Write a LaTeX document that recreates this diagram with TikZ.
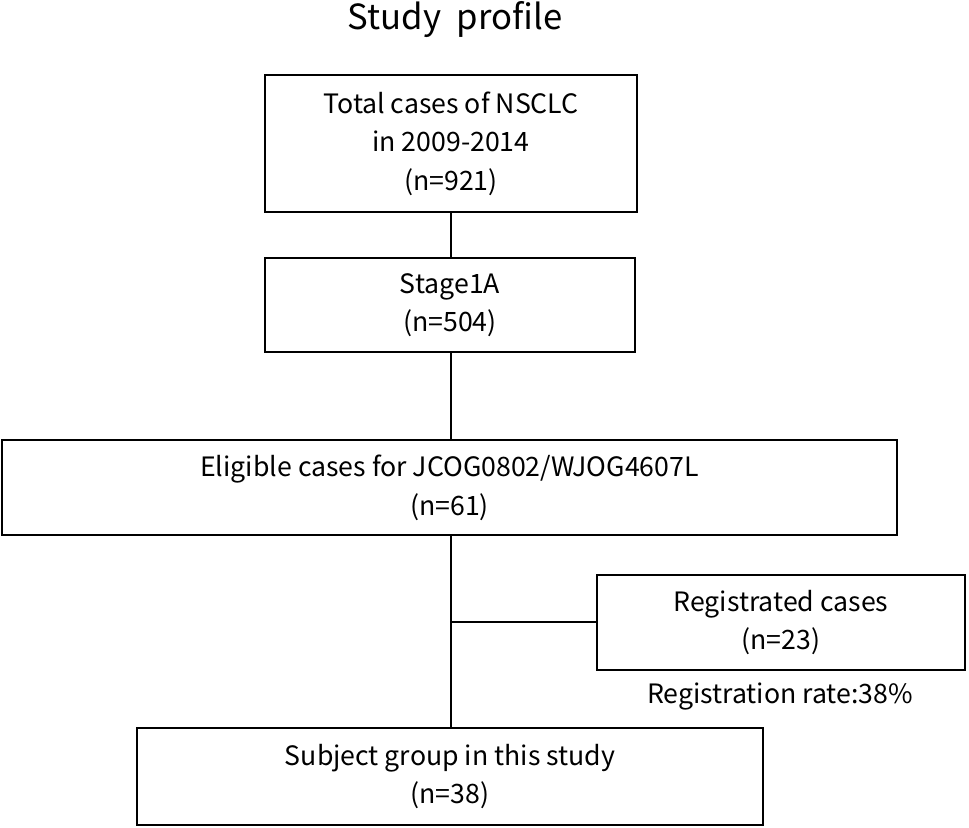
\documentclass[tikz,border=0pt]{standalone}
\usepackage{fontspec}
\setmainfont{Noto Sans CJK JP}
\begin{document}
\begin{tikzpicture}[x=0.75pt,y=-0.75pt,
  box/.style={draw,line width=1.2pt,align=center,font=\fontsize{20}{29}\selectfont,inner sep=0pt},
  ln/.style={line width=1.5pt}]
\useasboundingbox (0,0) rectangle (969,827);
\node[font=\fontsize{26}{30}\selectfont] (t) at (455,20) {Study\ \ profile};
\node[box,minimum width=372*0.75pt,minimum height=137*0.75pt] (b1) at (451,143.5) {Total cases of NSCLC\\in 2009-2014\\(n=921)};
\node[box,minimum width=370*0.75pt,minimum height=94*0.75pt] (b2) at (450,305) {Stage1A\\(n=504)};
\node[box,minimum width=895*0.75pt,minimum height=95*0.75pt] (b3) at (449.5,487.5) {Eligible cases for JCOG0802/WJOG4607L\\(n=61)};
\node[box,minimum width=368*0.75pt,minimum height=95*0.75pt] (b4) at (781,622.5) {Registrated cases\\(n=23)};
\node[font=\fontsize{20}{24}\selectfont] (r) at (780,696) {Registration rate:38\%};
\node[box,minimum width=626*0.75pt,minimum height=97*0.75pt] (b5) at (450,776.5) {Subject group in this study\\(n=38)};
\draw[ln] (b1.south -| 451,0) -- (b2.north -| 451,0);
\draw[ln] (b2.south -| 451,0) -- (b3.north -| 451,0);
\draw[ln] (b3.south -| 451,0) -- (b5.north -| 451,0);
\coordinate (j) at (451,622);
\draw[ln] (j) -- (b4.west |- j);
\end{tikzpicture}
\end{document}
